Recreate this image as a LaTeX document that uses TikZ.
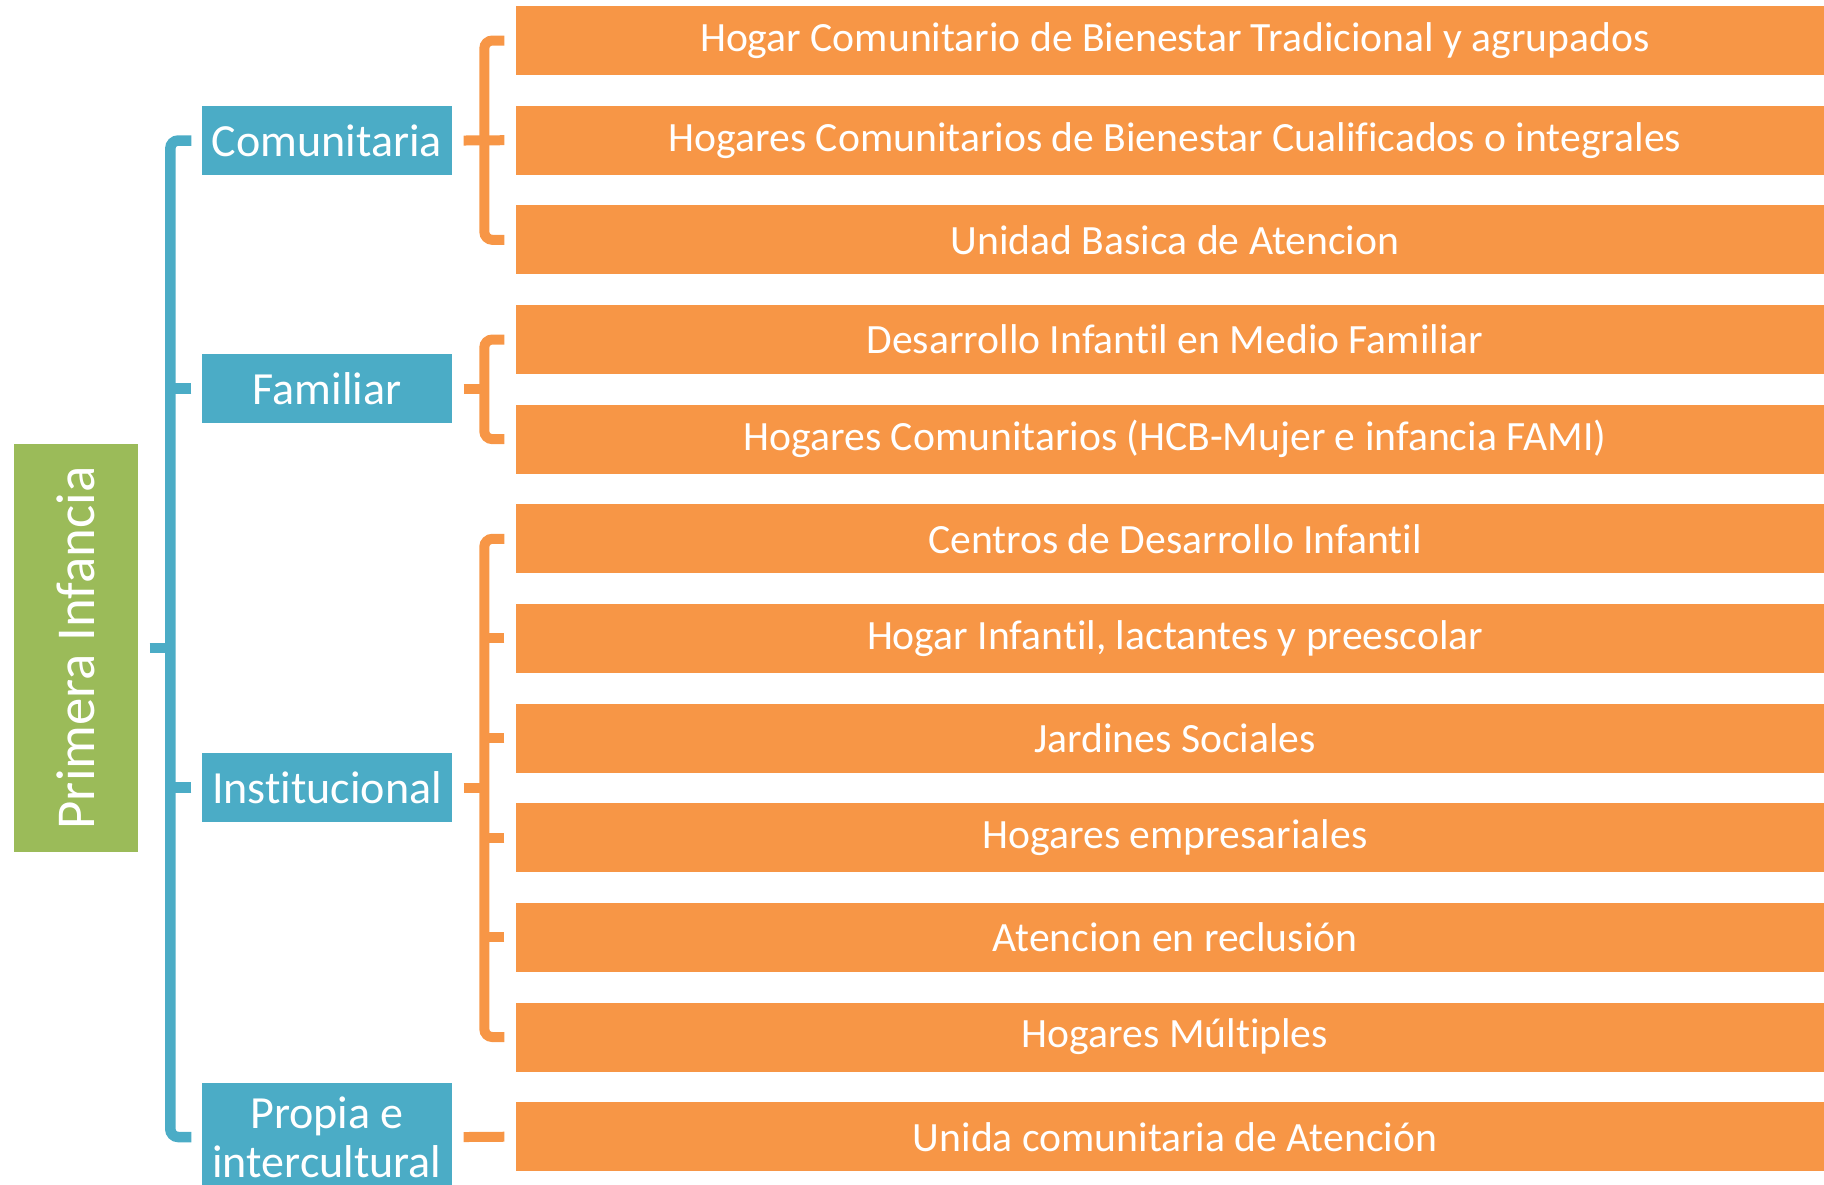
\documentclass[tikz,border=0pt]{standalone}
\usepackage{fontspec}
\setmainfont{Carlito}[Ligatures=NoCommon, Contextuals=NoAlternate]
\definecolor{azul}{HTML}{4BACC6}
\definecolor{naranja}{HTML}{F79646}
\definecolor{verde}{HTML}{9BBB59}
\tikzset{
  programa/.style={rectangle, fill=naranja, text=white, inner sep=0pt, minimum width=131.8mm, minimum height=6.9mm, font=\fontsize{11.85}{14}\selectfont},
  modalidad/.style={rectangle, fill=azul, text=white, inner sep=0pt, minimum width=25mm, minimum height=6.9mm, align=center, font=\fontsize{13.1}{13.9}\selectfont},
  llaveazul/.style={draw=azul, line width=1.05mm, rounded corners=0.8mm},
  llavenaranja/.style={draw=naranja, line width=1mm, rounded corners=0.8mm}
}
\begin{document}
\begin{tikzpicture}[x=0.1mm,y=-0.1mm]
\clip (0,0) rectangle (1824,1184);
\node [rectangle, fill=verde, text=white, inner sep=0pt, rotate=90, minimum width=40.8mm, minimum height=12.4mm, font=\fontsize{15.6}{16}\selectfont] (pi) at (76,648) {Primera Infancia};
\node [modalidad] (com) at (327,140.5) {Comunitaria};
\node [modalidad] (fam) at (327,388.5) {Familiar};
\node [modalidad] (inst) at (327,787.5) {Institucional};
\node [modalidad, minimum height=10.9mm] (prop) at (327,1137) {Propia e\\intercultural};
\node [programa] (o1) at (1175,40.5) {Hogar Comunitario de Bienestar Tradicional y agrupados};
\node [programa] (o2) at (1175,140.2) {Hogares Comunitarios de Bienestar Cualificados o integrales};
\node [programa] (o3) at (1175,239.8) {Unidad Basica de Atencion};
\node [programa] (o4) at (1175,339.5) {Desarrollo Infantil en Medio Familiar};
\node [programa] (o5) at (1175,439.1) {Hogares Comunitarios (HCB-Mujer e infancia FAMI)};
\node [programa] (o6) at (1175,538.8) {Centros de Desarrollo Infantil};
\node [programa] (o7) at (1175,638.4) {Hogar Infantil, lactantes y preescolar};
\node [programa] (o8) at (1175,738.1) {Jardines Sociales};
\node [programa] (o9) at (1175,837.7) {Hogares empresariales};
\node [programa] (o10) at (1175,937.4) {Atencion en reclusión};
\node [programa] (o11) at (1175,1037) {Hogares Múltiples};
\node [programa] (o12) at (1175,1136.7) {Unida comunitaria de Atención};
\draw [llaveazul] ([xshift=1.1mm]pi.south) -- ++(2.3mm,0);
\draw [llaveazul] ([xshift=-1mm]com.west) -- ++(-2.1mm,0) |- ([xshift=-1mm]prop.west);
\draw [llaveazul] ([xshift=-1mm]fam.west) -- ++(-2.1mm,0);
\draw [llaveazul] ([xshift=-1mm]inst.west) -- ++(-2.1mm,0);
\draw [llavenaranja] ([xshift=-1.1mm]o1.west) -- ++(-2mm,0) |- ([xshift=-1.1mm]o3.west);
\draw [llavenaranja] ([xshift=1.1mm]com.east) -- ([xshift=-1.1mm]o2.west);
\draw [llavenaranja] ([xshift=-1.1mm]o4.west) -- ++(-2mm,0) |- ([xshift=-1.1mm]o5.west);
\draw [llavenaranja] ([xshift=1.1mm]fam.east) -- ++(2.2mm,0);
\draw [llavenaranja] ([xshift=-1.1mm]o6.west) -- ++(-2mm,0) |- ([xshift=-1.1mm]o11.west);
\draw [llavenaranja] ([xshift=-1.1mm]o7.west) -- ++(-2mm,0);
\draw [llavenaranja] ([xshift=-1.1mm]o8.west) -- ++(-2mm,0);
\draw [llavenaranja] ([xshift=-1.1mm]o9.west) -- ++(-2mm,0);
\draw [llavenaranja] ([xshift=-1.1mm]o10.west) -- ++(-2mm,0);
\draw [llavenaranja] ([xshift=1.1mm]inst.east) -- ++(2.2mm,0);
\draw [llavenaranja] ([xshift=1.1mm]prop.east) -- ([xshift=-1.1mm]o12.west);
\end{tikzpicture}
\end{document}
